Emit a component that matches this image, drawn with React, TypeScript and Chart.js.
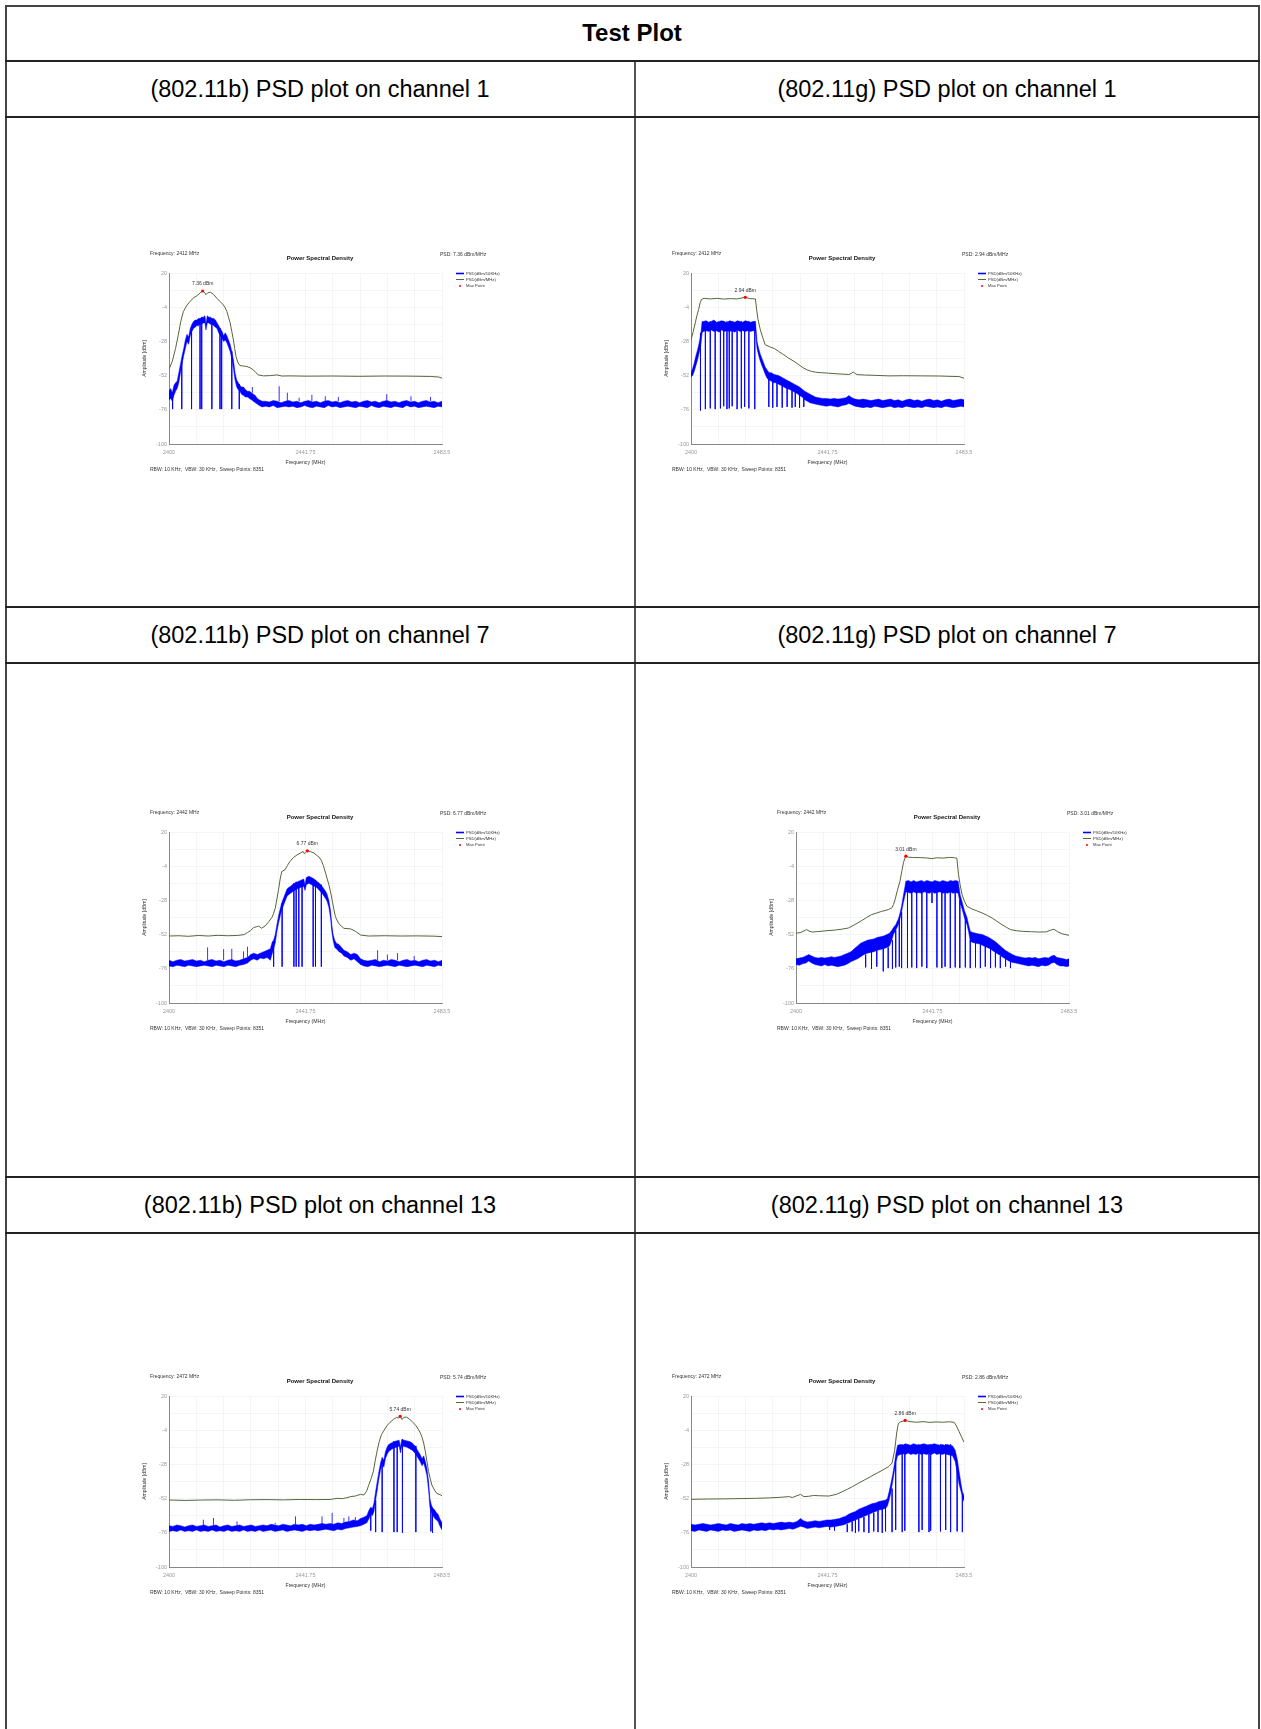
import React, { useEffect, useRef } from "react";
import { Chart, registerables } from "chart.js";
Chart.register(...registerables);

const FONT = '"Liberation Sans", Arial, Helvetica, sans-serif';

// ---------- axes ----------
const X_GRID = [2400, 2408.35, 2416.7, 2425.05, 2433.4, 2441.75, 2450.1, 2458.45, 2466.8, 2475.15, 2483.5];
const X_LABELS = [2400, 2441.75, 2483.5];
const Y_GRID = [-100, -88, -76, -64, -52, -40, -28, -16, -4, 8, 20];
const Y_LABELS = [-100, -76, -52, -28, -4, 20];
const LEGEND_LABELS = ["PSD(dBm/10KHz)", "PSD(dBm/MHz)", "Max Point"];

// ---------- table text ----------
const TABLE_TITLE = "Test Plot";
const ROW_TITLES = [
  ["(802.11b) PSD plot on channel 1", "(802.11g) PSD plot on channel 1"],
  ["(802.11b) PSD plot on channel 7", "(802.11g) PSD plot on channel 7"],
  ["(802.11b) PSD plot on channel 13", "(802.11g) PSD plot on channel 13"],
];

// ---------- chart meta: [centre frequency, PSD value] ----------
const META_B1 = ["2412", "7.36"];
const META_G1 = ["2412", "2.94"];
const META_B7 = ["2442", "6.77"];
const META_G7 = ["2442", "3.01"];
const META_B13 = ["2472", "5.74"];
const META_G13 = ["2472", "2.86"];

// ---------- max points [MHz, dBm] ----------
const MAX_B1 = [2410.3, 7.36];
const MAX_G1 = [2416.6, 2.94];
const MAX_B7 = [2442.3, 6.77];
const MAX_G7 = [2433.6, 3.01];
const MAX_B13 = [2470.7, 5.74];
const MAX_G13 = [2465.5, 2.86];

// ---------- PSD(dBm/MHz) olive traces [MHz, dBm] ----------
const OLIVE_B1 = [[2400,-47.5],[2401,-42],[2402,-33],[2402.8,-24],[2403.6,-14],[2404.4,-7],[2405.4,-3],[2406.4,0],[2407.5,2.5],[2408.5,4],[2409.5,6],[2410.3,7.36],[2410.8,6.5],[2411.3,4.8],[2411.8,6],[2412.6,6.6],[2413.6,5],[2414.6,2.4],[2415.6,0],[2416.6,-2.3],[2417.2,-4.5],[2417.7,-7],[2418.2,-11],[2418.7,-15],[2419.2,-21],[2419.7,-27],[2420.1,-33],[2420.5,-38.6],[2421.1,-43],[2421.7,-45],[2422.8,-45.3],[2423.8,-45.6],[2424.8,-46.5],[2425.8,-48],[2426.6,-50],[2427.3,-51.5],[2428.9,-52.2],[2431,-52],[2433,-51.5],[2434.5,-52.3],[2437,-52.2],[2442,-52.4],[2450,-52.3],[2458,-52.5],[2466,-52.3],[2474,-52.4],[2480,-52.6],[2482.5,-53],[2483.5,-53.8]];
const OLIVE_G1 = [[2400,-27],[2400.7,-21],[2401.3,-15],[2401.8,-10],[2402.3,-5.8],[2402.8,-1],[2403.2,1.5],[2404,2.2],[2406,1.8],[2408,2.2],[2410,1.7],[2412,2],[2414,1.8],[2416.6,2.94],[2418,2],[2419.7,1.8],[2420.1,-6],[2420.5,-12.8],[2421.2,-19.8],[2421.9,-25],[2422.7,-30.4],[2424.3,-32],[2425.5,-33],[2426.8,-35],[2428.3,-37.3],[2429.9,-39.8],[2431.5,-42],[2433,-44.4],[2434.3,-46.5],[2435.5,-48],[2436.8,-49],[2438.1,-49.6],[2440,-50],[2442.1,-50.3],[2445,-50.8],[2448.3,-51.2],[2449,-50.6],[2449.6,-49.4],[2450.2,-50.5],[2450.8,-51.3],[2453,-51.6],[2456,-51.8],[2460.5,-52.2],[2465,-52.1],[2470.7,-52.2],[2476,-52.3],[2482,-52.7],[2483.5,-53.8]];
const OLIVE_B7 = [[2400,-53],[2403,-52.8],[2406,-53.2],[2409,-52.6],[2412,-53],[2415,-52.5],[2418,-52.8],[2421,-52.6],[2423,-52],[2424,-50.5],[2424.9,-49.3],[2425.9,-47],[2426.8,-46.5],[2427.4,-46],[2428.3,-47.5],[2429.4,-46],[2430.5,-43],[2431.5,-39.9],[2432,-37],[2432.5,-33.5],[2433,-27],[2433.5,-20.5],[2434,-13],[2434.5,-7.7],[2435.5,-6.5],[2436.2,-3.5],[2437,-0.7],[2438,2],[2439.2,4],[2440.2,5.2],[2441,6.4],[2441.4,4.8],[2441.8,5.5],[2442.3,6.77],[2443.3,6.2],[2444.3,5.2],[2445.1,3.8],[2445.9,2.4],[2446.6,0],[2447.2,-3.5],[2447.9,-8.9],[2448.4,-13],[2448.9,-17],[2449.4,-22],[2449.9,-27.7],[2450.4,-34],[2450.9,-39.4],[2451.5,-42.5],[2452,-44.5],[2453.5,-47.6],[2455.6,-48],[2457.1,-49.8],[2458.6,-52.3],[2461,-53],[2466,-52.8],[2471,-53],[2476,-52.9],[2481,-53.1],[2483.5,-53.4]];
const OLIVE_G7 = [[2400,-51],[2401.5,-50.5],[2403.2,-48.5],[2404,-49.5],[2405,-50.2],[2407,-49.8],[2409.8,-49.2],[2412,-48.8],[2414,-48.2],[2416,-47.4],[2418,-45],[2420.1,-42.2],[2421.6,-40],[2423.1,-38],[2424.7,-36.8],[2426.2,-35.7],[2428.2,-34.5],[2429.3,-33.3],[2429.8,-31],[2430.3,-27.5],[2431,-21],[2431.8,-14.6],[2432.4,-7],[2432.9,-1.2],[2433.3,1.5],[2433.6,3.01],[2434.5,2.3],[2436,2.1],[2438,2],[2440,1.8],[2441.5,1.3],[2443,1.9],[2445,1.7],[2447,2.2],[2448.5,1.9],[2449.2,1.6],[2449.7,-10],[2450.2,-17],[2450.8,-24],[2451.5,-28.5],[2452.3,-32.2],[2453.8,-34],[2455.5,-35.5],[2456.9,-36.8],[2458.5,-38.5],[2460,-40.4],[2461.5,-42.7],[2463,-45],[2464.3,-46.8],[2465.6,-48.5],[2467.5,-49.3],[2469.2,-49.7],[2472,-50],[2474.3,-50.2],[2476.5,-50.1],[2477.8,-49],[2478.9,-48.2],[2480,-50],[2481.5,-51.5],[2483.5,-52.5]];
const OLIVE_B13 = [[2400,-53],[2405,-53.3],[2410,-53],[2415,-52.9],[2420,-53.2],[2425,-52.8],[2430,-52.7],[2435,-52.9],[2440,-52.6],[2445,-52.7],[2449.3,-52.6],[2451.4,-51.8],[2453,-52],[2454.4,-51.4],[2455.5,-50.6],[2457,-50.2],[2458.6,-49],[2459.6,-49.5],[2460.4,-47],[2461.1,-42.5],[2461.8,-38],[2462.5,-33],[2463.1,-25],[2463.7,-18],[2464.3,-12],[2465,-7],[2465.8,-4],[2466.6,-1],[2467.6,1.5],[2468.6,3.5],[2469.6,5],[2470.2,4.5],[2470.7,5.74],[2471.3,3.5],[2471.8,5],[2472.6,5.2],[2473.6,3.8],[2474.6,1.5],[2475.6,-1],[2476.3,-3.5],[2476.9,-6],[2477.4,-9],[2477.9,-13],[2478.4,-19],[2478.9,-26],[2479.4,-33],[2479.9,-38],[2480.4,-42.5],[2481.2,-46],[2481.9,-48.3],[2483.2,-49.5],[2483.5,-50]];
const OLIVE_G13 = [[2400,-52.5],[2405,-52.3],[2410,-52.2],[2415,-52],[2419.7,-51.8],[2424,-51.5],[2427.9,-51],[2429.9,-50.6],[2431,-51.2],[2433,-49.5],[2433.5,-49],[2434.5,-50.6],[2436,-50.4],[2437.5,-49.8],[2439.1,-50],[2442.2,-50.2],[2444.5,-49],[2446.2,-47.2],[2447.8,-45.5],[2449.3,-43.7],[2451,-41.5],[2453,-39],[2455,-36.5],[2457,-34],[2459,-31.5],[2460.5,-29.5],[2461.5,-27],[2462.3,-18],[2462.9,-6],[2463.4,0.5],[2464,1.8],[2465.5,2.86],[2467,2],[2469,1.6],[2471,2],[2473,1.5],[2475,1.8],[2477,1.6],[2479,1.9],[2480.5,1.5],[2481.2,-1],[2482,-5],[2482.8,-9],[2483.5,-12.5]];

// ---------- PSD(dBm/10KHz) blue trace envelope [MHz, upper dBm, lower dBm] ----------
const BAND_B1 = [[2400,-63,-69],[2400.5,-61,-68],[2401,-64,-70],[2401.5,-59,-66],[2402,-57,-63],[2402.5,-56,-61],[2403,-50,-57],[2403.5,-44,-50],[2404,-38,-44],[2404.5,-33,-38],[2405,-27,-33],[2405.5,-23,-28],[2406,-25,-30],[2406.5,-19,-24],[2407,-16,-21],[2407.5,-14,-19],[2408,-13,-18],[2408.5,-13,-17],[2409,-12,-17],[2409.5,-12,-16],[2410,-11,-16],[2410.5,-11,-15],[2411,-10,-15],[2411.3,-16,-20],[2411.7,-10,-15],[2412.2,-11,-15],[2412.7,-11,-16],[2413.2,-12,-16],[2413.7,-12,-17],[2414.2,-13,-18],[2414.7,-15,-19],[2415.2,-17,-22],[2415.7,-19,-24],[2416.2,-21,-26],[2416.7,-24,-28],[2417.2,-22,-27],[2417.7,-24,-29],[2418.2,-27,-32],[2418.7,-30,-35],[2419.2,-35,-40],[2419.7,-41,-47],[2420.2,-50,-55],[2420.7,-55,-60],[2421.2,-57,-62],[2421.7,-59,-63],[2422.2,-60,-65],[2422.8,-60,-66],[2423.4,-62,-67],[2424,-63,-67],[2424.6,-63,-68],[2425.2,-64,-69],[2425.8,-65,-70],[2426.4,-66,-71],[2427,-68,-72],[2427.6,-69,-73],[2428.5,-70,-74],[2429.5,-70,-73.5],[2430.7,-70.5,-74],[2431.9,-69.5,-73],[2433.1,-70,-74.5],[2434.3,-71,-74],[2435.5,-70,-73.5],[2436.7,-69.5,-74],[2437.9,-70.5,-73.5],[2439.1,-70,-74.5],[2440.3,-71,-74],[2441.5,-70,-73],[2442.7,-69.5,-74],[2443.9,-70.5,-74.5],[2445.1,-70,-73.5],[2446.3,-71,-74],[2447.5,-70,-74.5],[2448.7,-69.5,-73],[2449.9,-70.5,-74],[2451.1,-70,-73.5],[2452.3,-71,-74.5],[2453.5,-70,-74],[2454.7,-69.5,-73.5],[2455.9,-70.5,-74],[2457.1,-70,-74.5],[2458.3,-71,-73.5],[2459.5,-70,-74],[2460.7,-69.5,-74.5],[2461.9,-70.5,-73],[2463.1,-70,-74],[2464.3,-71,-74.5],[2465.5,-70,-73.5],[2466.7,-69.5,-74],[2467.9,-70.5,-74.5],[2469.1,-70,-73.5],[2470.3,-71,-74],[2471.5,-70,-74.5],[2472.7,-69.5,-73],[2473.9,-70.5,-74],[2475.1,-70,-73.5],[2476.3,-71,-74.5],[2477.5,-70,-74],[2478.7,-69.5,-73.5],[2479.9,-70.5,-74],[2481.1,-70,-74.5],[2482.3,-71,-73.5],[2483.5,-70,-74]];
const BAND_G1 = [[2400,-50,-53],[2400.5,-47,-52],[2401,-43,-49],[2401.5,-38,-45],[2402,-34,-41],[2402.5,-29,-36],[2403,-23,-31],[2403.4,-14,-22],[2403.8,-14,-21],[2404.6,-13.5,-20.5],[2405.4,-14.5,-21],[2406.2,-14,-20],[2407,-13,-21],[2407.8,-14.5,-20.5],[2408.6,-14,-21.5],[2409.4,-13.5,-20],[2410.2,-14,-21],[2411,-15,-20.5],[2411.8,-13.5,-21],[2412.6,-14,-20.5],[2413.4,-14.5,-21.5],[2414.2,-13.5,-20],[2415,-14,-21],[2415.8,-14.5,-20.5],[2416.6,-13.5,-21],[2417.4,-14,-20.5],[2418.2,-14.5,-21],[2419,-14,-20.5],[2419.7,-14,-21],[2420.2,-28,-33],[2420.7,-33,-38],[2421.2,-37,-42],[2421.7,-40,-45],[2422.2,-43,-48],[2422.7,-46,-51],[2423.3,-48,-54],[2423.9,-50,-55],[2424.6,-50,-56],[2425.3,-51,-57],[2426,-51.5,-57],[2426.8,-52,-58],[2427.6,-53,-59],[2428.4,-54,-60],[2429.2,-55,-61],[2430,-56,-61.5],[2430.8,-57,-62.5],[2431.6,-58,-63.5],[2432.4,-59,-64.5],[2433.2,-60,-66],[2434,-61.5,-67],[2434.8,-63,-69],[2435.6,-64,-70],[2436.4,-65,-71],[2437.2,-66,-71.5],[2438,-67,-72],[2439,-67.5,-72.5],[2440.2,-68,-73],[2441.4,-68,-73.5],[2442.6,-68.5,-73],[2443.8,-68,-73.5],[2445,-68.5,-74],[2446.2,-68,-73],[2447.4,-67.5,-72.5],[2448.3,-66,-71.5],[2449.2,-67.5,-72.5],[2450.2,-68.5,-73.5],[2451.4,-69,-74],[2452.6,-68.5,-74.5],[2453.8,-69,-74],[2455,-69.5,-74.5],[2456.2,-69,-73.5],[2457.4,-68.5,-74],[2458.6,-69.5,-74.5],[2459.8,-69,-74],[2461,-68.5,-73.5],[2462.2,-69.5,-74.5],[2463.4,-69,-74],[2464.6,-70,-74.5],[2465.8,-69,-73.5],[2467,-68.5,-74],[2468.2,-69.5,-74.5],[2469.4,-69,-74],[2470.6,-70,-74.5],[2471.8,-69,-73.5],[2473,-68.5,-74],[2474.2,-69.5,-74.5],[2475.4,-69,-74],[2476.6,-70,-74.5],[2477.8,-69,-73.5],[2479,-68.5,-74],[2480.2,-69.5,-74.5],[2481.4,-69,-74],[2482.6,-68.5,-73.5],[2483.5,-69,-74]];
const BAND_B7 = [[2400,-70,-74],[2401.2,-71,-74.5],[2402.4,-70,-73.5],[2403.6,-69.5,-74],[2404.8,-70.5,-74.5],[2406,-70,-73.5],[2407.2,-69.5,-74],[2408.4,-70.5,-74.5],[2409.6,-70,-74],[2410.8,-71,-73.5],[2412,-70,-74],[2413.2,-69.5,-74.5],[2414.4,-70.5,-73.5],[2415.6,-70,-74],[2416.8,-71,-74.5],[2418,-70,-73.5],[2419.2,-69.5,-74],[2420.4,-70.5,-74.5],[2421.6,-70,-73.5],[2422.8,-69,-73],[2424,-68,-72],[2425,-66,-70],[2425.9,-65,-69],[2427,-66,-70],[2427.9,-65,-68.5],[2429,-64,-69],[2430,-63,-68],[2431,-62,-70],[2431.6,-57,-65],[2432,-56,-62],[2432.5,-52,-58],[2433,-45,-50],[2433.5,-39,-44],[2434.1,-33,-38],[2434.6,-29,-34],[2435.1,-26,-31],[2435.6,-23,-28],[2436.1,-20,-25],[2436.6,-19,-24],[2437.2,-18,-23],[2438,-16.5,-21.5],[2439.2,-15,-20],[2440.2,-14,-19],[2441.2,-13,-18],[2441.6,-17,-21],[2442,-12,-17],[2442.8,-11,-16],[2443.6,-12,-17],[2444.4,-13,-18],[2445.2,-14.5,-19],[2446,-16,-21],[2446.8,-18,-23],[2447.4,-20,-25],[2448,-22,-27],[2448.4,-24,-29],[2448.9,-28,-33],[2449.4,-35,-40],[2449.8,-45,-50],[2450.2,-52,-56],[2450.7,-56,-61],[2451.2,-58,-62],[2452,-59,-64],[2452.8,-61,-65],[2453.5,-63,-67],[2454.5,-64,-68],[2455.6,-66,-70],[2456.6,-65,-69],[2457.6,-66,-71],[2458.6,-69,-73],[2459.6,-70,-74],[2460.8,-70.5,-74.5],[2462,-70,-73.5],[2463.2,-69.5,-74],[2464.4,-71,-74.5],[2465.6,-70,-74],[2466.8,-70.5,-73.5],[2468,-69.5,-74],[2469.2,-70,-74.5],[2470.4,-71,-73.5],[2471.6,-70,-74],[2472.8,-69.5,-74.5],[2474,-70.5,-74],[2475.2,-70,-73.5],[2476.4,-71,-74],[2477.6,-70,-74.5],[2478.8,-69.5,-73.5],[2480,-70.5,-74],[2481.2,-70,-74.5],[2482.4,-71,-73.5],[2483.5,-70,-74]];
const BAND_G7 = [[2400,-69,-73],[2401,-68.5,-73.5],[2402,-68,-72.5],[2403,-67,-72],[2403.9,-66,-70.5],[2404.8,-67,-72],[2405.8,-68,-73],[2406.8,-68.5,-73.5],[2407.8,-68,-74],[2408.8,-68.5,-73],[2409.8,-68,-74],[2410.8,-67.5,-73.5],[2411.8,-68,-74],[2412.8,-67.5,-74.5],[2413.8,-67,-74],[2414.8,-66,-73.5],[2415.8,-65,-72.5],[2416.8,-64,-71],[2417.8,-62,-70],[2418.8,-60,-69],[2419.8,-58,-67.5],[2420.8,-57,-66],[2421.8,-56,-65],[2422.8,-55.5,-64.5],[2423.8,-55,-64],[2424.8,-54,-63],[2425.8,-53.5,-62.5],[2426.8,-53,-62],[2427.8,-52,-61],[2428.6,-51,-60],[2429.3,-49,-56],[2429.8,-47,-52],[2430.5,-45,-49],[2431.3,-41,-45],[2431.8,-37,-41],[2432.3,-32,-36],[2432.8,-25,-30],[2433.2,-20,-26],[2433.6,-14.5,-22],[2434.4,-14,-22.5],[2435.2,-15,-23],[2436,-14,-22],[2436.8,-15,-23],[2437.6,-14.5,-22.5],[2438.4,-14,-23],[2439.2,-15,-22],[2440,-14,-22.5],[2440.8,-14.5,-23],[2441.6,-15,-22],[2442.4,-14,-23],[2443.2,-14.5,-22.5],[2444,-15,-22],[2444.8,-14,-23],[2445.6,-14.5,-22.5],[2446.4,-15,-23],[2447.2,-14,-22],[2448,-14.5,-23],[2448.8,-14,-22.5],[2449.6,-14.5,-23],[2450.2,-24,-30],[2450.8,-29,-34],[2451.5,-35,-40],[2452.3,-40,-45],[2452.8,-45,-50],[2453.3,-49.7,-56.7],[2454,-50.5,-57.5],[2455,-51,-58],[2455.9,-51.5,-58.5],[2457,-52,-59.5],[2458,-53,-60.5],[2459,-54,-61.5],[2460,-55.5,-63],[2461,-57,-64.5],[2462,-59,-66],[2463,-61,-67.5],[2464,-63,-69],[2465.1,-64.5,-70.5],[2466.2,-66,-71.5],[2467.2,-67,-72],[2468.2,-67.5,-72.5],[2469.2,-68,-73],[2470.2,-68.5,-73.5],[2471.2,-68,-74],[2472.2,-68.5,-73.5],[2473.2,-68,-74],[2474.2,-69,-74.5],[2475.2,-68.5,-73.5],[2476.2,-68,-74],[2477.2,-68.5,-73.5],[2478.2,-67,-72],[2479,-66.5,-71.5],[2479.8,-68,-73],[2480.8,-68.5,-74],[2481.8,-69,-74],[2482.8,-69.5,-74.5],[2483.5,-69,-74]];
const BAND_B13 = [[2400,-71,-75],[2401.2,-71.5,-74.5],[2402.4,-70.5,-75],[2403.6,-71,-74],[2404.8,-72,-75],[2406,-71,-74.5],[2407.2,-70.5,-75],[2408.4,-71.5,-74],[2409.6,-71,-75],[2410.8,-70.5,-74.5],[2412,-71.5,-75],[2413.2,-71,-74],[2414.4,-70.5,-75],[2415.6,-72,-74.5],[2416.8,-71,-75],[2418,-70.5,-74],[2419.2,-71.5,-75],[2420.4,-71,-74.5],[2421.6,-70.5,-75],[2422.8,-71.5,-74],[2424,-71,-75],[2425.2,-70.5,-74.5],[2426.4,-71.5,-75],[2427.6,-71,-74],[2428.8,-70.5,-75],[2430,-71,-74.5],[2431.2,-70,-74],[2432.4,-70.5,-75],[2433.6,-71,-74.5],[2434.8,-70,-74],[2436,-70.5,-75],[2437.2,-71,-74.5],[2438.4,-70,-74],[2439.6,-70.5,-74.5],[2440.8,-70,-75],[2442,-71,-74],[2443.2,-70,-74.5],[2444.4,-70.5,-74],[2445.6,-70,-74.5],[2446.8,-69.5,-74],[2448,-70,-73.5],[2449.2,-69.5,-74],[2450.4,-70,-74.5],[2451.6,-69,-73.5],[2452.8,-69.5,-74],[2454,-68.5,-73],[2455.2,-68,-72.5],[2456.4,-67,-72],[2457.6,-67.5,-71.5],[2458.6,-66,-71],[2459.6,-65,-70],[2460.5,-64,-69],[2461.2,-60,-66],[2461.7,-58,-63],[2462.2,-59,-64],[2462.7,-55,-61],[2463.2,-47,-53],[2463.7,-40,-46],[2464.2,-33,-38],[2464.7,-27,-32],[2465.2,-23,-28],[2465.7,-25,-30],[2466.2,-19,-24],[2466.7,-16,-21],[2467.2,-14,-19],[2468,-13,-17.5],[2468.8,-12,-16.5],[2469.6,-11.5,-16],[2470.4,-11,-15],[2470.8,-16,-20],[2471.2,-10.5,-15],[2472,-11,-15.5],[2472.8,-11.5,-16],[2473.6,-12,-17],[2474.4,-13,-18],[2475.2,-15,-20],[2476,-18,-23],[2476.8,-21,-26],[2477.4,-24,-29],[2477.9,-22,-27],[2478.4,-26,-31],[2478.9,-31,-36],[2479.4,-40,-46],[2479.8,-52,-58],[2480.3,-57,-62],[2480.8,-59,-64],[2481.3,-60,-66],[2481.8,-62,-67],[2482.3,-63,-68],[2482.8,-66,-71],[2483.5,-69,-74]];
const BAND_G13 = [[2400,-70,-74.5],[2401.2,-70.5,-75],[2402.4,-70,-74],[2403.6,-69.5,-74.5],[2404.8,-70,-75],[2406,-70.5,-74],[2407.2,-70,-74.5],[2408.4,-69.5,-75],[2409.6,-70,-74],[2410.8,-70.5,-74.5],[2412,-69.5,-74],[2413.2,-70,-75],[2414.4,-70.5,-74.5],[2415.6,-69.5,-74],[2416.8,-70,-74.5],[2418,-69.5,-75],[2419.2,-70,-74],[2420.4,-69.5,-74.5],[2421.6,-69,-74],[2422.8,-69.5,-74.5],[2424,-69,-73.5],[2425.2,-69.5,-74],[2426.4,-69,-73.5],[2427.6,-68.5,-74],[2428.8,-69,-73.5],[2430,-68.5,-73],[2431.2,-69,-73.5],[2432.4,-68,-72.5],[2433.5,-66,-71.4],[2434.4,-67.5,-72],[2435.6,-68.5,-73],[2436.8,-68,-72.5],[2438,-67.5,-72],[2439.2,-68,-72.5],[2440.4,-67.5,-72],[2441.6,-67,-71.5],[2442.8,-67,-72],[2444.2,-66.5,-71.5],[2445.4,-66,-71],[2446.4,-65,-70.5],[2447.2,-64.5,-70],[2448.2,-63,-69],[2449.2,-62,-68],[2450.3,-61,-67],[2451.3,-59.5,-66],[2452.4,-58.5,-65],[2453.4,-57.5,-64],[2454.4,-56.5,-63],[2455.5,-55.5,-62],[2456.5,-55,-61],[2457.5,-54,-60],[2458.6,-53.5,-59.5],[2459.6,-53,-58.7],[2460.1,-51.8,-57],[2460.6,-47,-53],[2461.1,-42,-48],[2461.7,-35,-40],[2462.2,-28,-33],[2462.7,-20,-26],[2463.2,-14.5,-22],[2464,-14,-21],[2464.8,-14.5,-20.5],[2465.6,-13.5,-21],[2466.4,-14,-20],[2467.2,-14.5,-21],[2468,-13.5,-20.5],[2468.8,-14,-21],[2469.6,-14.5,-20],[2470.4,-14,-21],[2471.2,-13.5,-20.5],[2472,-14,-21],[2472.8,-14.5,-20.5],[2473.6,-14,-21],[2474.4,-13.5,-20],[2475.2,-14,-21],[2476,-14.5,-20.5],[2476.8,-14,-21],[2477.6,-14.5,-20.5],[2478.4,-14,-21],[2479.2,-14.5,-21.5],[2480,-15,-22],[2480.8,-18,-26],[2481.5,-25,-35],[2482,-33,-42],[2482.6,-42,-47],[2483,-47,-51],[2483.5,-50,-54]];

// ---------- blue trace spikes / notches [MHz, from dBm, to dBm] ----------
const SPIKES_B1 = [[2401.1,-64,-75.5],[2403.9,-42,-75.5],[2406.9,-18,-75.5],[2409.5,-12,-75.5],[2410,-11,-75.5],[2413.1,-12,-75.5],[2415.6,-19,-75.5],[2416.1,-21,-75.5],[2419.2,-35,-75.5],[2421.5,-58,-75.5],[2425.5,-64,-60],[2433.7,-70,-59.5],[2436.2,-70,-64],[2439.8,-70,-67.5],[2443.7,-70,-65.5],[2447.8,-70,-66.5],[2451.8,-70,-67],[2466.6,-70,-65],[2474,-70,-66.5],[2480,-70,-67]];
const SPIKES_G1 = [[2402.9,-22,-76.5],[2404.4,-14,-75.5],[2405.9,-14,-75],[2407.4,-14,-75.5],[2409,-14,-75],[2410,-14,-73.5],[2411,-14,-75.5],[2411.7,-14,-75],[2412.6,-14,-73.5],[2414.1,-14,-75.5],[2415.4,-14,-75],[2416.4,-14,-74],[2417.7,-14,-75],[2419.5,-14,-75.5],[2423.8,-54,-74],[2425,-56,-74.5],[2426.3,-57,-74],[2427.9,-58,-74.5],[2429.4,-60,-74],[2430.9,-62,-74.5],[2431.9,-63,-74],[2433.2,-65,-74.5],[2434.5,-68,-74]];
const SPIKES_B7 = [[2432,-58,-74.5],[2434.6,-30,-74.5],[2438.2,-16,-74.5],[2438.9,-15,-74.5],[2439.7,-15,-74.5],[2440.7,-14,-74.5],[2444.1,-13,-74.5],[2444.8,-14,-74.5],[2446.6,-17,-74.5],[2411.8,-70,-61],[2416.7,-70,-62.2],[2419.2,-70,-62],[2422.8,-69,-63.8],[2424,-68,-60.5],[2463.8,-70,-63],[2466.8,-70,-66],[2469.9,-70,-65],[2475,-70,-67]];
const SPIKES_G7 = [[2421.3,-66,-75],[2423.1,-64,-76],[2424.7,-63,-74.5],[2426.7,-62,-77.8],[2428.2,-61,-75.5],[2429.5,-56,-76],[2430.5,-49,-75],[2431.6,-41,-74.5],[2432.3,-36,-75.5],[2434.1,-22,-75.5],[2435.4,-22,-75],[2436.9,-22,-75.5],[2438.5,-22,-74.5],[2440,-22,-75.5],[2441.6,-22,-29.8],[2443.1,-22,-75],[2444.6,-22,-75.5],[2445.6,-22,-74.5],[2447.2,-22,-75.5],[2448.7,-22,-75],[2450.1,-28,-75.5],[2451.8,-40,-75],[2453.3,-56,-75.5],[2454.9,-58,-75],[2456.4,-59,-75.5],[2457.9,-60,-74.5],[2459.5,-62,-75.5],[2461,-64,-75],[2462.5,-67,-75.5],[2464.1,-69,-74.5],[2465.6,-70,-75.5],[2469.2,-73,-70.8]];
const SPIKES_B13 = [[2461.7,-63,-74.5],[2463.2,-53,-75.5],[2465.2,-28,-75.5],[2468.8,-12,-75.5],[2469.8,-11.5,-75.5],[2471.4,-10.5,-76],[2475.5,-15,-75.5],[2480.1,-57,-75],[2480.6,-59,-76],[2410.5,-71,-66.8],[2413.6,-71,-65.6],[2420.8,-71,-68],[2432.5,-70,-69],[2438.7,-70,-64.5],[2446.8,-70,-64.5],[2449.9,-70,-62],[2453.5,-69,-65.6],[2455,-68,-64.5],[2457,-67,-65]];
const SPIKES_G13 = [[2442.4,-71,-74],[2443.9,-71,-74.5],[2447.8,-70,-75.5],[2449.3,-68,-75],[2450.3,-67,-76],[2451.3,-66,-75],[2452.9,-65,-75.5],[2454.4,-63,-76],[2455.9,-62,-75],[2457.2,-60,-75.5],[2458.5,-59,-76],[2459.5,-58,-75],[2461.5,-45,-75.5],[2462.6,-24,-74],[2464.6,-14,-75.5],[2465.4,-14,-74.5],[2469.7,-14,-75.5],[2470.7,-14,-74],[2472.8,-14,-75.5],[2473.3,-14,-74.5],[2476.3,-14,-75],[2477.9,-14,-74],[2479.4,-14,-75.5],[2481.4,-28,-75],[2483,-50,-75.5]];

// ---------- styling ----------
const BLUE = "#0000ff";
const OLIVE = "#55663a";
const RED = "#ff0000";

const CHART_W = 400;
const CHART_H = 240;
const AREA_L = 40;
const AREA_T = 35;
const AREA_W = 273;
const AREA_H = 171;
const Y_AXIS_W = 22;
const X_AXIS_H = 14;

type ChartCfg = {
  meta: string[];
  max: number[];
  olive: number[][];
  band: number[][];
  spikes: number[][];
};

const CFG_B1: ChartCfg = { meta: META_B1, max: MAX_B1, olive: OLIVE_B1, band: BAND_B1, spikes: SPIKES_B1 };
const CFG_G1: ChartCfg = { meta: META_G1, max: MAX_G1, olive: OLIVE_G1, band: BAND_G1, spikes: SPIKES_G1 };
const CFG_B7: ChartCfg = { meta: META_B7, max: MAX_B7, olive: OLIVE_B7, band: BAND_B7, spikes: SPIKES_B7 };
const CFG_G7: ChartCfg = { meta: META_G7, max: MAX_G7, olive: OLIVE_G7, band: BAND_G7, spikes: SPIKES_G7 };
const CFG_B13: ChartCfg = { meta: META_B13, max: MAX_B13, olive: OLIVE_B13, band: BAND_B13, spikes: SPIKES_B13 };
const CFG_G13: ChartCfg = { meta: META_G13, max: MAX_G13, olive: OLIVE_G13, band: BAND_G13, spikes: SPIKES_G13 };

const decorPlugin = {
  id: "psdDecor",
  afterDraw(chart: any, _args: any, opts: any) {
    const { ctx, chartArea: ca, scales } = chart;
    const meta: string[] = opts.meta;
    const max: number[] = opts.max;
    ctx.save();
    ctx.textBaseline = "middle";
    ctx.fillStyle = "#333";
    ctx.font = `5px ${FONT}`;
    ctx.textAlign = "left";
    ctx.fillText(`Frequency: ${meta[0]} MHz`, ca.left - 19, ca.top - 19);
    ctx.fillText(`PSD: ${meta[1]} dBm/MHz`, ca.right - 2, ca.top - 18);
    ctx.fillText("RBW: 10 KHz,  VBW: 30 KHz,  Sweep Points: 8351", ca.left - 19, ca.bottom + 26);
    ctx.textAlign = "center";
    ctx.font = `5.2px ${FONT}`;
    ctx.fillText("Frequency (MHz)", ca.left + AREA_W / 2, ca.bottom + 19);
    ctx.font = `bold 6px ${FONT}`;
    ctx.fillStyle = "#111";
    ctx.fillText("Power Spectral Density", ca.left + 151, ca.top - 15);
    ctx.save();
    ctx.translate(ca.left - 24, ca.top + AREA_H / 2);
    ctx.rotate(-Math.PI / 2);
    ctx.font = `5px ${FONT}`;
    ctx.fillStyle = "#333";
    ctx.fillText("Amplitude [dBm]", 0, 0);
    ctx.restore();
    // max label
    const px = scales.x.getPixelForValue(max[0]);
    const py = scales.y.getPixelForValue(max[1]);
    ctx.font = `5px ${FONT}`;
    ctx.fillStyle = "#333";
    ctx.fillText(`${meta[1]} dBm`, px, py - 7);
    // legend
    const lx = ca.right + 14;
    const rows = [ca.top + 0.5, ca.top + 6.5, ca.top + 13];
    ctx.textAlign = "left";
    ctx.font = `4.2px ${FONT}`;
    ctx.strokeStyle = BLUE;
    ctx.lineWidth = 1.6;
    ctx.beginPath();
    ctx.moveTo(lx, rows[0]);
    ctx.lineTo(lx + 8, rows[0]);
    ctx.stroke();
    ctx.strokeStyle = OLIVE;
    ctx.lineWidth = 1;
    ctx.beginPath();
    ctx.moveTo(lx, rows[1]);
    ctx.lineTo(lx + 8, rows[1]);
    ctx.stroke();
    ctx.fillStyle = RED;
    ctx.beginPath();
    ctx.arc(lx + 4, rows[2], 1, 0, Math.PI * 2);
    ctx.fill();
    ctx.fillStyle = "#333";
    LEGEND_LABELS.forEach((t, i) => ctx.fillText(t, lx + 10, rows[i]));
    ctx.restore();
  },
};

function PsdChart({ cfg, left, top }: { cfg: ChartCfg; left: number; top: number }) {
  const ref = useRef<HTMLCanvasElement | null>(null);
  useEffect(() => {
    if (!ref.current) return;
    const hi = cfg.band.map((r) => ({ x: r[0], y: r[1] }));
    const lo = cfg.band.map((r) => ({ x: r[0], y: r[2] }));
    const spikes: any[] = [];
    cfg.spikes.forEach((s) => {
      spikes.push({ x: s[0], y: s[1] }, { x: s[0], y: s[2] }, { x: s[0], y: null });
    });
    const olive = cfg.olive.map((r) => ({ x: r[0], y: r[1] }));
    const chart = new Chart(ref.current, {
      type: "line",
      data: {
        datasets: [
          { label: "Max Point", data: [{ x: cfg.max[0], y: cfg.max[1] }], showLine: false, pointRadius: 1.6, pointBackgroundColor: RED, pointBorderWidth: 0, order: 0 },
          { label: "PSD(dBm/MHz)", data: olive, borderColor: OLIVE, borderWidth: 1, pointRadius: 0, tension: 0, order: 1 },
          { label: "band-hi", data: hi, borderColor: BLUE, borderWidth: 0.5, pointRadius: 0, fill: false, order: 3 },
          { label: "PSD(dBm/10KHz)", data: lo, borderColor: BLUE, borderWidth: 0.5, pointRadius: 0, fill: "-1", backgroundColor: BLUE, order: 3 },
          { label: "spikes", data: spikes, borderColor: BLUE, borderWidth: 0.8, pointRadius: 0, spanGaps: false, order: 2 },
        ],
      } as any,
      options: {
        responsive: false,
        animation: false,
        events: [],
        layout: {
          padding: {
            left: AREA_L - Y_AXIS_W,
            top: AREA_T,
            right: CHART_W - AREA_L - AREA_W,
            bottom: CHART_H - AREA_T - AREA_H - X_AXIS_H,
          },
        },
        plugins: {
          legend: { display: false },
          tooltip: { enabled: false },
          title: { display: false },
          psdDecor: { meta: cfg.meta, max: cfg.max },
        } as any,
        scales: {
          x: {
            type: "linear",
            min: 2400,
            max: 2483.5,
            afterBuildTicks: (axis: any) => {
              axis.ticks = X_GRID.map((v) => ({ value: v }));
            },
            afterFit: (axis: any) => {
              axis.height = X_AXIS_H;
            },
            ticks: {
              autoSkip: false,
              maxRotation: 0,
              padding: 5,
              color: "#999",
              font: { family: FONT, size: 5.5 },
              callback: (v: any) => (X_LABELS.includes(Number(v)) ? String(v) : ""),
            },
            grid: { color: "#f2f2f2", lineWidth: 0.8, drawTicks: false },
            border: { color: "#888", width: 1 },
          },
          y: {
            type: "linear",
            min: -100,
            max: 20,
            afterBuildTicks: (axis: any) => {
              axis.ticks = Y_GRID.map((v) => ({ value: v }));
            },
            afterFit: (axis: any) => {
              axis.width = Y_AXIS_W;
            },
            ticks: {
              autoSkip: false,
              padding: 2,
              color: "#999",
              font: { family: FONT, size: 5.5 },
              callback: (v: any) => (Y_LABELS.includes(Number(v)) ? String(v) : ""),
            },
            grid: { color: "#f2f2f2", lineWidth: 0.8, drawTicks: false },
            border: { color: "#888", width: 1 },
          },
        },
      } as any,
      plugins: [decorPlugin],
    });
    return () => chart.destroy();
  }, [cfg]);
  return (
    <canvas
      ref={ref}
      width={CHART_W}
      height={CHART_H}
      style={{ position: "absolute", left, top, width: CHART_W, height: CHART_H }}
    />
  );
}

// plot-area top-left corners in the page
const PLACEMENTS: { cfg: ChartCfg; px: number; py: number }[] = [
  { cfg: CFG_B1, px: 169, py: 273 },
  { cfg: CFG_G1, px: 691, py: 273 },
  { cfg: CFG_B7, px: 169, py: 832 },
  { cfg: CFG_G7, px: 796, py: 832 },
  { cfg: CFG_B13, px: 169, py: 1396 },
  { cfg: CFG_G13, px: 691, py: 1396 },
];

const LINE = "#222";

function HLine({ y, x1, x2, color = LINE }: { y: number; x1: number; x2: number; color?: string }) {
  return <div style={{ position: "absolute", left: x1, top: y, width: x2 - x1, height: 2, background: color }} />;
}
function VLine({ x, y1, y2, color = LINE }: { x: number; y1: number; y2: number; color?: string }) {
  return <div style={{ position: "absolute", left: x, top: y1, width: 2, height: y2 - y1, background: color }} />;
}
function Cell({ text, cx, cy, bold = false, size = 23.5 }: { text: string; cx: number; cy: number; bold?: boolean; size?: number }) {
  return (
    <div
      style={{
        position: "absolute",
        left: cx - 300,
        top: cy - 16,
        width: 600,
        height: 32,
        lineHeight: "32px",
        textAlign: "center",
        fontFamily: FONT,
        fontSize: size,
        fontWeight: bold ? 700 : 400,
        color: "#000",
        whiteSpace: "nowrap",
      }}
    >
      {text}
    </div>
  );
}

export default function App() {
  const headerRows = [
    { top: 60, bottom: 116 },
    { top: 606, bottom: 662 },
    { top: 1176, bottom: 1232 },
  ];
  return (
    <div style={{ position: "absolute", left: 0, top: 0, width: 1261, height: 1729, overflow: "hidden", background: "#fff" }}>
      <HLine y={5} x1={5} x2={1260} color="#444" />
      <VLine x={5} y1={5} y2={1729} color="#444" />
      <VLine x={1258} y1={5} y2={1729} color="#444" />
      <VLine x={634} y1={60} y2={1729} color="#555" />
      {headerRows.map((r, i) => (
        <React.Fragment key={i}>
          <HLine y={r.top} x1={5} x2={1260} />
          <HLine y={r.bottom} x1={5} x2={1260} />
        </React.Fragment>
      ))}
      <Cell text={TABLE_TITLE} cx={632} cy={33} bold size={24} />
      {headerRows.map((r, i) => (
        <React.Fragment key={"t" + i}>
          <Cell text={ROW_TITLES[i][0]} cx={320} cy={(r.top + r.bottom) / 2 + 1} />
          <Cell text={ROW_TITLES[i][1]} cx={947} cy={(r.top + r.bottom) / 2 + 1} />
        </React.Fragment>
      ))}
      {PLACEMENTS.map((p, i) => (
        <PsdChart key={i} cfg={p.cfg} left={p.px - AREA_L} top={p.py - AREA_T} />
      ))}
    </div>
  );
}
